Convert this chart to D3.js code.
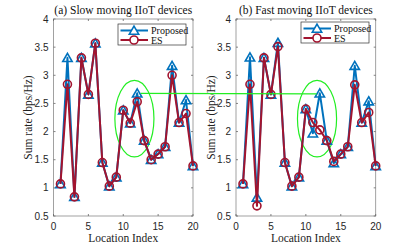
<!DOCTYPE html>
<html>
<head>
<meta charset="utf-8">
<script src="https://cdn.jsdelivr.net/npm/d3@7"></script>
<style>
  body { margin: 0; background: #fff; }
  svg { display: block; }
</style>
</head>
<body>
<script>
// Data
const locations = d3.range(1, 21);
const slowProposed = [1.07, 3.31, 0.84, 3.31, 2.66, 3.57, 1.45, 1.03, 1.19, 2.38, 2.15, 2.68, 1.84, 1.50, 1.60, 1.73, 3.17, 2.16, 2.56, 1.39];
const slowES       = [1.07, 2.84, 0.84, 3.31, 2.66, 3.57, 1.45, 1.03, 1.19, 2.38, 2.15, 2.53, 1.84, 1.50, 1.60, 1.73, 3.00, 2.16, 2.32, 1.39];
const fastProposed = [1.07, 3.32, 0.83, 3.31, 2.66, 3.58, 1.45, 1.03, 1.19, 2.40, 1.97, 2.68, 1.84, 1.44, 1.60, 1.73, 3.17, 2.16, 2.54, 1.39];
const fastES       = [1.07, 2.84, 0.68, 3.31, 2.66, 3.51, 1.45, 1.03, 1.19, 2.40, 2.16, 2.03, 1.84, 1.47, 1.60, 1.73, 2.83, 2.16, 2.34, 1.39];
const titles = ["(a) Slow moving IIoT devices", "(b) Fast moving IIoT devices"];
const seriesNames = ["Proposed", "ES"];
const xTicks = [0, 5, 10, 15, 20];
const yTicks = [0.5, 1, 1.5, 2, 2.5, 3, 3.5, 4];

const width = 415, height = 243;
const blue = "#0072BD", red = "#A2142F", green = "#22ee22";
const serif = "'Liberation Serif', 'DejaVu Serif', serif";
const sans = "'Liberation Sans', Arial, sans-serif";

const svg = d3.select("body").append("svg")
    .attr("width", width)
    .attr("height", height);

const panels = [
    { left: 53.5, right: 193, proposed: slowProposed, es: slowES, title: titles[0] },
    { left: 236, right: 375.7, proposed: fastProposed, es: fastES, title: titles[1] }
];
const plotTop = 19, plotBottom = 216;

const y = d3.scaleLinear().domain([0.5, 4]).range([plotBottom, plotTop]);

const triangle = d3.symbol().type(d3.symbolTriangle).size(38);

panels.forEach((p, pi) => {
    const x = d3.scaleLinear().domain([0, 20]).range([p.left, p.right]);
    p.x = x;
    const g = svg.append("g");

    // box
    g.append("rect")
        .attr("x", p.left).attr("y", plotTop)
        .attr("width", p.right - p.left).attr("height", plotBottom - plotTop)
        .attr("fill", "#fff")
        .attr("stroke", "#8a8a8a")
        .attr("stroke-width", 0.8);

    // ticks, inward on all sides
    xTicks.forEach(t => {
        g.append("line").attr("x1", x(t)).attr("x2", x(t)).attr("y1", plotBottom).attr("y2", plotBottom - 2)
            .attr("stroke", "#666").attr("stroke-width", 0.8);
        g.append("line").attr("x1", x(t)).attr("x2", x(t)).attr("y1", plotTop).attr("y2", plotTop + 2)
            .attr("stroke", "#666").attr("stroke-width", 0.8);
        g.append("text").attr("x", x(t)).attr("y", plotBottom + 13.5)
            .attr("text-anchor", "middle")
            .attr("font-family", sans).attr("font-size", 10).attr("fill", "#262626")
            .text(t);
    });
    yTicks.forEach(t => {
        g.append("line").attr("x1", p.left).attr("x2", p.left + 2).attr("y1", y(t)).attr("y2", y(t))
            .attr("stroke", "#666").attr("stroke-width", 0.8);
        g.append("line").attr("x1", p.right).attr("x2", p.right - 2).attr("y1", y(t)).attr("y2", y(t))
            .attr("stroke", "#666").attr("stroke-width", 0.8);
        g.append("text").attr("x", p.left - 5).attr("y", y(t) + 3.6)
            .attr("text-anchor", "end")
            .attr("font-family", sans).attr("font-size", 10).attr("fill", "#262626")
            .text(t);
    });

    // title + axis labels
    const cx = (p.left + p.right) / 2;
    g.append("text").attr("x", cx).attr("y", 13.5)
        .attr("text-anchor", "middle")
        .attr("font-family", serif).attr("font-size", 11.5).attr("fill", "#111")
        .text(p.title);
    g.append("text").attr("x", cx).attr("y", 242)
        .attr("text-anchor", "middle")
        .attr("font-family", serif).attr("font-size", 11.5).attr("fill", "#222")
        .text("Location Index");
    g.append("text")
        .attr("transform", `translate(${p.left - 21.5},${(plotTop + plotBottom) / 2}) rotate(-90)`)
        .attr("text-anchor", "middle")
        .attr("font-family", serif).attr("font-size", 11.5).attr("fill", "#222")
        .text("Sum rate (bps/Hz)");

    // green ellipse
    g.append("ellipse")
        .attr("cx", x(11.6)).attr("cy", y(2.23))
        .attr("rx", x(14.4) - x(11.6)).attr("ry", y(1.55) - y(2.23))
        .attr("fill", "none").attr("stroke", green).attr("stroke-width", 1.2);

    const line = d3.line().x((d, i) => x(locations[i])).y(d => y(d));

    // Proposed
    g.append("path").datum(p.proposed).attr("d", line)
        .attr("fill", "none").attr("stroke", blue).attr("stroke-width", 2).attr("stroke-linejoin", "round");
    g.selectAll(".tri").data(p.proposed).enter().append("path")
        .attr("d", triangle)
        .attr("transform", (d, i) => `translate(${x(locations[i])},${y(d) + 1})`)
        .attr("fill", "none").attr("stroke", blue).attr("stroke-width", 1.6);

    // ES
    g.append("path").datum(p.es).attr("d", line)
        .attr("fill", "none").attr("stroke", red).attr("stroke-width", 2).attr("stroke-linejoin", "round");
    g.selectAll(".circ").data(p.es).enter().append("circle")
        .attr("cx", (d, i) => x(locations[i])).attr("cy", d => y(d)).attr("r", 4)
        .attr("fill", "none").attr("stroke", red).attr("stroke-width", 1.6);

    // legend
    const lx = pi === 0 ? 118 : 301, ly = pi === 0 ? 24 : 22;
    const lg = g.append("g").attr("transform", `translate(${lx},${ly})`);
    lg.append("rect").attr("width", 68).attr("height", 21)
        .attr("fill", "#fff").attr("stroke", "#333").attr("stroke-width", 0.7);
    [[blue, "tri"], [red, "circ"]].forEach(([c, m], k) => {
        const yy = 6.5 + k * 9.5;
        lg.append("line").attr("x1", 2.5).attr("x2", 30).attr("y1", yy).attr("y2", yy)
            .attr("stroke", c).attr("stroke-width", 2);
        if (m === "tri") {
            lg.append("path").attr("d", triangle).attr("transform", `translate(16,${yy + 1})`)
                .attr("fill", "#fff").attr("stroke", c).attr("stroke-width", 1.6);
        } else {
            lg.append("circle").attr("cx", 16).attr("cy", yy).attr("r", 4)
                .attr("fill", "#fff").attr("stroke", c).attr("stroke-width", 1.6);
        }
        lg.append("text").attr("x", 33).attr("y", yy + 3.5)
            .attr("font-family", serif).attr("font-size", 10).attr("fill", "#111")
            .text(seriesNames[k]);
    });
});

// green connector between the two highlighted peaks
const a = panels[0], b = panels[1];
svg.append("line")
    .attr("x1", a.x(12.5)).attr("y1", y(2.68))
    .attr("x2", b.x(11.55)).attr("y2", y(2.67))
    .attr("stroke", green).attr("stroke-width", 1.2);
</script>
</body>
</html>
